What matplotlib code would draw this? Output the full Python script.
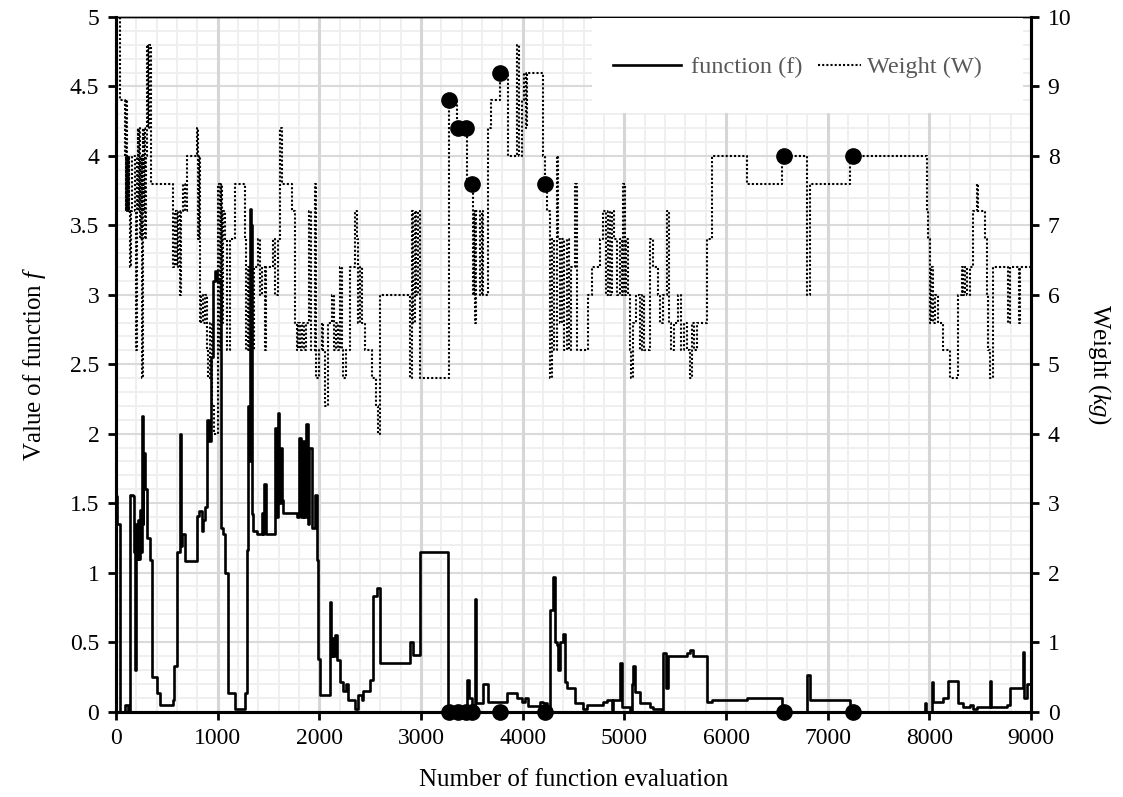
import matplotlib
matplotlib.use("Agg")
import numpy as np
import matplotlib.pyplot as plt
from matplotlib.patches import Rectangle
from matplotlib.ticker import MultipleLocator
from matplotlib.lines import Line2D

plt.rcParams['font.family'] = ['Liberation Serif', 'DejaVu Serif']
plt.rcParams['mathtext.fontset'] = 'custom'
plt.rcParams['mathtext.rm'] = 'Liberation Serif'
plt.rcParams['mathtext.it'] = 'Liberation Serif:italic'

# ---- data: weight (step series, right axis) ----
w_x = [0, 35, 90, 96, 102, 108, 114, 120, 126, 132, 140, 150, 160, 185, 192, 202, 212, 220, 228, 236,
       244, 252, 262, 270, 278, 288, 296, 305, 315, 322, 340, 564, 580, 596, 612, 628, 640, 660, 680, 695,
       800, 808, 816, 824, 840, 856, 872, 892, 905, 925, 945, 960, 1008, 1020, 1030, 1045, 1056, 1072, 1090, 1121,
       1175, 1265, 1280, 1295, 1310, 1325, 1340, 1360, 1400, 1420, 1433, 1466, 1480, 1548, 1565, 1590, 1613, 1630, 1728, 1761,
       1780, 1795, 1810, 1830, 1850, 1870, 1898, 1915, 1957, 1970, 2000, 2022, 2040, 2060, 2088, 2121, 2140, 2160, 2180, 2203,
       2220, 2236, 2260, 2302, 2351, 2367, 2384, 2400, 2416, 2449, 2520, 2555, 2580, 2597, 2892, 2908, 2925, 2940, 2955, 2970,
       2990, 2996, 3279, 3357, 3449, 3510, 3520, 3531, 3545, 3564, 3580, 3600, 3613, 3662, 3690, 3777, 3859, 3941, 3960, 3990,
       4010, 4030, 4045, 4203, 4220, 4240, 4269, 4290, 4310, 4334, 4350, 4370, 4390, 4410, 4433, 4460, 4480, 4515, 4530, 4646,
       4679, 4760, 4794, 4820, 4840, 4859, 4880, 4900, 4930, 4958, 4975, 4990, 5005, 5020, 5039, 5055, 5070, 5089, 5110, 5150,
       5170, 5190, 5252, 5285, 5334, 5350, 5380, 5416, 5440, 5460, 5490, 5531, 5560, 5590, 5620, 5650, 5670, 5690, 5712, 5810,
       5859, 6203, 6547, 6793, 6826, 7219, 7974, 7990, 8006, 8020, 8040, 8060, 8088, 8137, 8203, 8285, 8318, 8335, 8350, 8367,
       8400, 8433, 8466, 8480, 8547, 8564, 8580, 8600, 8629, 8777, 8793, 8880, 8895, 9000]
w_val = [10.0, 8.8, 8.0, 7.2, 8.8, 7.2, 8.0, 7.2, 8.0, 7.2, 6.4, 7.2, 8.0, 7.2, 5.2, 8.0, 8.4, 7.2, 8.4, 6.8,
         8.0, 4.8, 8.4, 7.2, 8.4, 6.8, 8.0, 9.6, 8.4, 9.6, 7.6, 6.4, 7.2, 6.4, 7.2, 6.0, 7.2, 7.6, 7.2, 8.0,
         8.4, 6.8, 8.0, 5.6, 6.0, 5.6, 6.0, 5.2, 4.8, 5.6, 4.4, 4.0, 7.6, 5.2, 7.6, 5.6, 7.2, 6.8, 5.2, 6.8,
         7.6, 6.8, 5.2, 6.4, 5.2, 6.0, 5.2, 6.4, 6.8, 6.0, 6.4, 5.2, 6.4, 6.8, 6.0, 6.8, 8.4, 7.6, 7.2, 5.6,
         5.2, 5.6, 5.2, 5.6, 5.2, 5.6, 7.2, 5.2, 7.6, 4.8, 5.2, 5.6, 5.2, 4.4, 5.6, 6.0, 5.2, 5.6, 5.2, 6.4,
         5.2, 4.8, 5.2, 6.4, 7.2, 6.8, 5.6, 6.4, 5.6, 5.2, 4.8, 4.4, 4.0, 6.0, 4.8, 7.2, 5.6, 7.2, 6.0, 7.2,
         4.8, 4.8, 8.8, 8.4, 7.6, 6.0, 7.2, 5.6, 7.2, 7.2, 6.0, 7.2, 6.0, 8.4, 8.8, 9.2, 8.0, 9.6, 8.0, 8.8,
         9.2, 8.4, 9.2, 8.0, 7.6, 7.2, 4.8, 6.8, 5.2, 8.0, 6.8, 5.6, 6.8, 5.2, 6.8, 5.2, 6.4, 7.6, 5.2, 6.0,
         6.4, 6.8, 7.2, 6.0, 7.2, 6.0, 7.2, 6.8, 6.0, 6.8, 6.0, 7.6, 6.0, 6.8, 6.0, 5.2, 4.8, 5.6, 6.0, 5.2,
         6.0, 5.2, 6.8, 6.4, 6.0, 5.6, 6.0, 7.2, 5.6, 5.2, 5.6, 6.0, 5.2, 5.6, 5.2, 4.8, 5.6, 5.2, 5.6, 6.8,
         8.0, 7.6, 8.0, 6.0, 7.6, 8.0, 7.2, 6.8, 5.6, 6.4, 5.6, 6.0, 5.6, 5.2, 4.8, 6.0, 6.4, 6.0, 6.4, 6.0,
         6.4, 7.2, 7.6, 7.2, 6.8, 6.0, 5.2, 4.8, 6.4, 5.6, 6.4, 5.6, 6.4, 6.4]

# ---- data: function f (step series, left axis) ----
f_x = [0, 8, 39, 89, 121, 138, 165, 180, 187, 196, 205, 215, 225, 235, 245, 255, 262, 270, 285, 302,
       334, 351, 400, 433, 564, 575, 597, 630, 640, 646, 679, 800, 820, 843, 860, 875, 892, 915, 935, 955,
       970, 990, 1030, 1056, 1072, 1105, 1170, 1269, 1285, 1295, 1305, 1315, 1330, 1340, 1351, 1384, 1433, 1449, 1460, 1475,
       1564, 1575, 1590, 1605, 1620, 1635, 1646, 1777, 1800, 1815, 1835, 1850, 1865, 1885, 1900, 1925, 1960, 1975, 1990, 2006,
       2088, 2100, 2115, 2125, 2137, 2155, 2175, 2200, 2236, 2260, 2285, 2351, 2384, 2416, 2433, 2498, 2531, 2564, 2597, 2892,
       2925, 2990, 3269, 3449, 3470, 3500, 3531, 3540, 3613, 3662, 3843, 3941, 3990, 4020, 4050, 4170, 4203, 4240, 4269, 4302,
       4318, 4334, 4345, 4367, 4400, 4417, 4433, 4515, 4597, 4630, 4794, 4827, 4876, 4890, 4958, 4975, 5056, 5072, 5089, 5105,
       5154, 5252, 5285, 5367, 5384, 5410, 5433, 5613, 5646, 5679, 5810, 5859, 6203, 6547, 6793, 6826, 7219, 7957, 7970, 8023,
       8040, 8072, 8137, 8187, 8285, 8330, 8400, 8430, 8466, 8597, 8610, 8761, 8793, 8924, 8935, 8957, 9000]
f_val = [1.55, 1.35, 0.0, 0.05, 0.0, 1.56, 1.55, 1.15, 0.3, 1.35, 1.1, 1.38, 1.1, 1.45, 1.15, 2.13, 1.35, 1.86, 1.6, 1.25,
         1.09, 0.25, 0.13, 0.05, 0.08, 0.33, 1.15, 2.0, 1.19, 1.28, 1.08, 1.41, 1.44, 1.3, 1.38, 1.47, 2.1, 1.95, 2.55, 3.1,
         3.17, 3.1, 1.32, 1.28, 1.0, 0.13, 0.02, 0.13, 1.16, 2.2, 1.8, 3.62, 3.5, 1.42, 1.3, 1.28, 1.43, 1.28, 1.64, 1.28,
         2.04, 1.4, 2.15, 1.5, 1.9, 1.52, 1.43, 1.4, 1.97, 1.4, 1.95, 1.4, 2.07, 1.35, 1.9, 1.32, 1.56, 1.09, 0.38, 0.12,
         0.12, 0.79, 0.4, 0.53, 0.4, 0.55, 0.37, 0.21, 0.15, 0.2, 0.08, 0.02, 0.12, 0.08, 0.15, 0.23, 0.83, 0.89, 0.35, 0.5,
         0.41, 1.15, 0.0, 0.23, 0.1, 0.05, 0.81, 0.06, 0.2, 0.07, 0.13, 0.1, 0.07, 0.1, 0.04, 0.07, 0.06, 0.01, 0.73, 0.97,
         0.5, 0.48, 0.3, 0.5, 0.56, 0.21, 0.17, 0.06, 0.02, 0.05, 0.07, 0.08, 0.01, 0.08, 0.35, 0.03, 0.0, 0.2, 0.33, 0.14,
         0.06, 0.03, 0.02, 0.0, 0.42, 0.17, 0.4, 0.42, 0.44, 0.4, 0.07, 0.08, 0.1, 0.0, 0.26, 0.08, 0.0, 0.06, 0.0, 0.21,
         0.07, 0.07, 0.1, 0.22, 0.06, 0.03, 0.05, 0.02, 0.03, 0.22, 0.03, 0.05, 0.17, 0.43, 0.1, 0.2, 0.2]

# ---- data: highlighted points ----
pt_x = [3280, 3360, 3445, 3505, 3777, 4220, 6570, 7246]
pt_w = [8.8, 8.4, 8.4, 7.6, 9.2, 7.6, 8.0, 8.0]
pt_f = [0, 0, 0, 0, 0, 0, 0, 0]

W_PX, H_PX = 1123, 797
def fx(px):
    return px / W_PX
def fy(py):
    return 1 - py / H_PX

fig = plt.figure(figsize=(11.23, 7.97), dpi=100)
L, R, T, B = 116, 1031, 17, 711.5
ax = fig.add_axes([fx(L), fy(B), fx(R) - fx(L), fy(T) - fy(B)])
ax2 = ax.twinx()

ax.set_xlim(0, 9000)
ax.set_ylim(0, 5)
ax2.set_ylim(0, 10)

ax.xaxis.set_major_locator(MultipleLocator(1000))
ax.yaxis.set_major_locator(MultipleLocator(0.5))
ax2.yaxis.set_major_locator(MultipleLocator(1))

# grid (minor first, then major so majors stay continuous)
for gx in np.arange(200, 9000, 200):
    if gx % 1000:
        ax.axvline(gx, color='#efefef', lw=1.4, zorder=0.1)
for gy in np.arange(0.1, 5.0, 0.1):
    if abs(gy * 2 - round(gy * 2)) > 1e-6:
        ax.axhline(gy, color='#efefef', lw=1.4, zorder=0.1)
for gy in np.arange(0.5, 5.0, 0.5):
    ax.axhline(gy, color='#dadada', lw=1.5, zorder=0.2)
for gx in np.arange(1000, 9000, 1000):
    ax.axvline(gx, color='#d6d6d6', lw=2.2, zorder=0.3)

# lines
ax.step(f_x, f_val, where='post', color='black', lw=1.9, zorder=3)
ax2.step(w_x, w_val, where='post', color='black', lw=1.5, linestyle=(0, (1, 1)), zorder=3)
ax2.plot(pt_x, pt_w, 'o', color='black', ms=11, zorder=5, clip_on=False)
ax.plot(pt_x, pt_f, 'o', color='black', ms=11, zorder=5, clip_on=False)

# legend background box
fig.add_artist(Rectangle((fx(592), fy(113)), fx(1023) - fx(592), fy(T + 1) - fy(113),
                         transform=fig.transFigure, facecolor='white', edgecolor='none', zorder=2))
h_f = Line2D([], [], color='black', lw=1.9)
h_w = Line2D([], [], color='black', lw=1.5, linestyle=(0, (1, 1)))
fs = 17.5
leg1 = fig.legend(handles=[h_f], labels=['function (f)'], loc='center left',
                  bbox_to_anchor=(fx(613), fy(67)), frameon=False, fontsize=fs, borderpad=0,
                  borderaxespad=0, handlelength=2.8, handletextpad=0.42, labelcolor='#595959')
leg2 = fig.legend(handles=[h_w], labels=['Weight (W)'], loc='center left',
                  bbox_to_anchor=(fx(818), fy(67)), frameon=False, fontsize=fs, borderpad=0,
                  borderaxespad=0, handlelength=1.75, handletextpad=0.25, labelcolor='#595959')
leg1.set_zorder(6)
leg2.set_zorder(6)

# spines & ticks
for a in (ax, ax2):
    for s in ('left', 'right', 'bottom'):
        a.spines[s].set_linewidth(2.2)
    a.spines['top'].set_linewidth(1.0)
ax.tick_params(which='major', direction='out', length=6, width=2, labelsize=17, pad=6)
ax2.tick_params(which='major', direction='out', length=6, width=2, labelsize=17, pad=6)
ax.set_yticks([0, 0.5, 1, 1.5, 2, 2.5, 3, 3.5, 4, 4.5, 5])
ax.set_yticklabels(['0', '0.5', '1', '1.5', '2', '2.5', '3', '3.5', '4', '4.5', '5'])

ax.set_xlabel('Number of function evaluation', fontsize=18, labelpad=14)
ax.set_ylabel('Value of function $f$', fontsize=18, labelpad=16)
ax2.set_ylabel('Weight ($kg$)', fontsize=18, rotation=-90, labelpad=30)

fig.savefig('out.png', dpi=100)
